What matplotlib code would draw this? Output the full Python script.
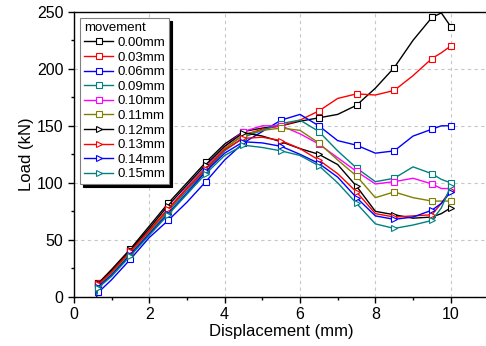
import numpy as np
import matplotlib
matplotlib.use('Agg')
import matplotlib.pyplot as plt
from matplotlib.ticker import MultipleLocator

plt.rcParams['font.family'] = ['Liberation Sans', 'DejaVu Sans']

# Desplazamiento común (mm)
disp = [0.6, 0.65, 1.0, 1.5, 2.0, 2.5, 3.0, 3.5, 4.0, 4.5, 5.0,
        5.5, 6.0, 6.5, 7.0, 7.5, 8.0, 8.5, 9.0, 9.5, 9.75, 10.0]

labels = ['0.00mm', '0.03mm', '0.06mm', '0.09mm', '0.10mm',
          '0.11mm', '0.12mm', '0.13mm', '0.14mm', '0.15mm']

load_000 = [5, 12, 24, 42, 62, 82, 100, 118, 134, 145, 148, 150, 154, 157, 160, 168, 183, 201, 225, 245, 249, 237]
load_003 = [3, 12, 22, 40, 58, 77, 95, 113, 130, 142, 147, 150, 155, 163, 174, 178, 177, 181, 194, 209, 214, 220]
load_006 = [0, 4, 15, 33, 52, 67, 83, 101, 120, 135, 145, 155, 160, 150, 137, 133, 126, 128, 141, 147, 150, 150]
load_009 = [3, 10, 20, 38, 56, 75, 93, 111, 128, 140, 146, 152, 155, 145, 128, 113, 101, 104, 114, 108, 103, 100]
load_010 = [4, 11, 22, 40, 58, 77, 96, 114, 132, 145, 150, 150, 143, 134, 122, 110, 99, 101, 104, 99, 95, 95]
load_011 = [3, 10, 21, 39, 57, 76, 95, 113, 130, 142, 146, 148, 146, 135, 120, 106, 87, 92, 87, 84, 84, 84]
load_012 = [4, 12, 23, 41, 60, 80, 98, 116, 132, 144, 141, 136, 130, 125, 116, 97, 75, 72, 69, 70, 73, 78]
load_013 = [3, 11, 22, 40, 58, 77, 95, 112, 129, 139, 140, 137, 130, 120, 108, 92, 73, 70, 71, 72, 82, 94]
load_014 = [2, 9, 19, 37, 55, 73, 91, 110, 126, 136, 135, 132, 125, 117, 105, 87, 71, 68, 70, 76, 82, 92]
load_015 = [2, 8, 18, 36, 54, 72, 90, 108, 124, 133, 131, 128, 124, 115, 100, 82, 64, 60, 63, 67, 78, 97]

loads = [load_000, load_003, load_006, load_009, load_010,
         load_011, load_012, load_013, load_014, load_015]
colores = ['black', 'red', 'blue', '#008080', 'magenta',
           '#808000', 'black', 'red', 'blue', '#008080']
marcadores = ['s', 's', 's', 's', 's', 's', '>', '>', '>', '>']

fig = plt.figure(figsize=(4.86, 3.46), dpi=100)
ax = fig.add_axes([0.152, 0.142, 0.853, 0.824])

for y, c, m, lab in zip(loads, colores, marcadores, labels):
    ax.plot(disp, y, color=c, lw=1.0, marker=m, markersize=4 if m == 's' else 5,
            markerfacecolor='white', markeredgecolor=c, markeredgewidth=0.8,
            markevery=(1, 2), label=lab)

ax.set_xlim(0, 11)
ax.set_ylim(0, 250)
ax.xaxis.set_major_locator(MultipleLocator(2))
ax.xaxis.set_minor_locator(MultipleLocator(1))
ax.yaxis.set_major_locator(MultipleLocator(50))
ax.yaxis.set_minor_locator(MultipleLocator(25))
ax.tick_params(which='major', direction='out', length=4, width=1, labelsize=11.5)
ax.tick_params(which='minor', direction='out', length=2.5, width=1)
ax.tick_params(top=False, right=False)
ax.grid(True, which='major', color='#c8c8c8', ls=(0, (3, 3)), lw=0.8)
for s in ax.spines.values():
    s.set_linewidth(1.0)

ax.set_xlabel('Displacement (mm)', fontsize=12, labelpad=1)
ax.set_ylabel('Load (kN)', fontsize=12, labelpad=2)

leg = ax.legend(title='movement', loc='upper left', fontsize=9.5, title_fontsize=9.5,
                frameon=True, fancybox=False, edgecolor='#808080', framealpha=1,
                shadow={'color': 'black', 'alpha': 1}, labelspacing=0.18,
                handlelength=2.2, handletextpad=0.3, borderpad=0.3,
                borderaxespad=0.5, bbox_to_anchor=(0.0, 1.0))
leg._legend_box.align = 'left'
leg.get_frame().set_linewidth(0.8)

fig.savefig('out.png', dpi=100)
